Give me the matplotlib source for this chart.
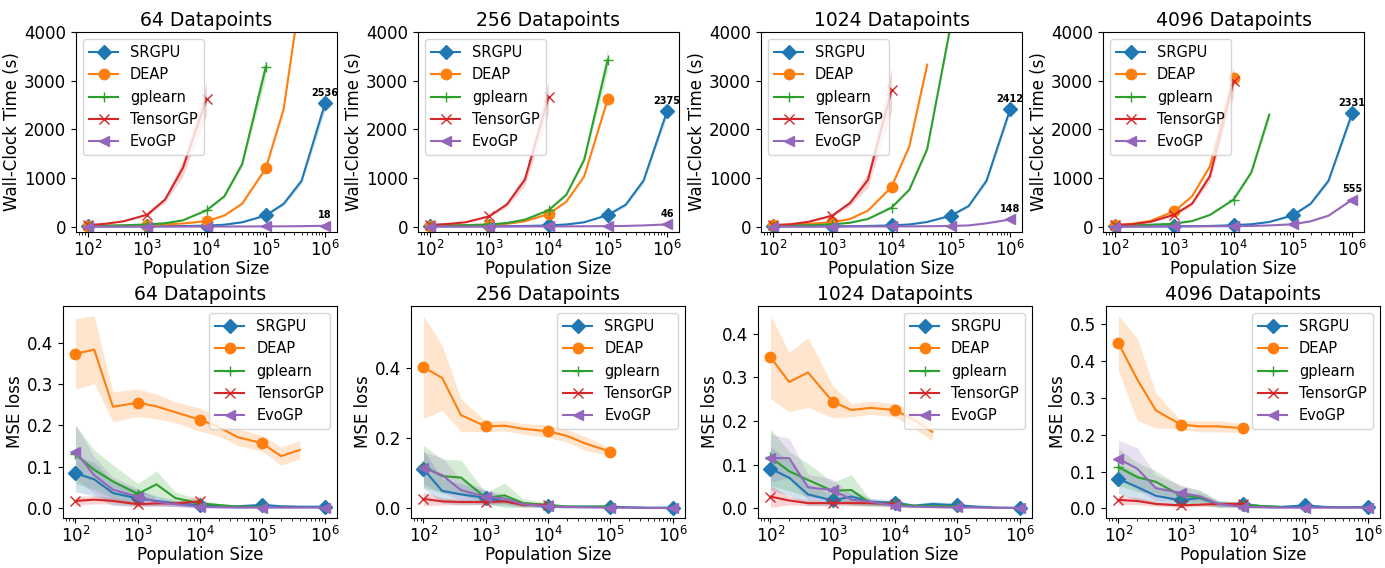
"""Wall-clock time and MSE loss vs population size, one column per dataset size."""

import matplotlib
import numpy as np

matplotlib.use("Agg")
import matplotlib.pyplot as plt

POP = [100, 200, 400, 1000, 2000, 4000, 10000, 20000, 40000, 100000, 200000, 400000, 1000000]
METHODS = ["SRGPU", "DEAP", "gplearn", "TensorGP", "EvoGP"]
MARKERS = {"SRGPU": "D", "DEAP": "o", "gplearn": "+", "TensorGP": "x", "EvoGP": "<"}
DATASETS = [64, 256, 1024, 4096]
TIME_TICKS = [0, 1000, 2000, 3000, 4000]
MSE_TICKS = [
    [0.0, 0.1, 0.2, 0.3, 0.4],
    [0.0, 0.2, 0.4],
    [0.0, 0.1, 0.2, 0.3, 0.4],
    [0.0, 0.1, 0.2, 0.3, 0.4, 0.5],
]

# wall-clock time (s), mean and std over runs; lists stop where a method was not run
time_64 = {
    "SRGPU": [5, 5, 6, 8, 10, 13, 20, 40, 90, 230, 470, 940, 2536],
    "DEAP": [15, 18, 22, 30, 45, 65, 112, 228, 473, 1199, 2418, 4930],
    "gplearn": [18, 22, 28, 45, 70, 130, 335, 623, 1288, 3281],
    "TensorGP": [30, 60, 110, 246, 555, 1205, 2623],
    "EvoGP": [1, 1, 1, 2, 2, 2, 3, 3, 4, 5, 7, 10, 18],
}
time_64_std = {
    "SRGPU": [1, 1, 1, 1, 1, 1, 2, 3, 6, 20, 40, 60, 150],
    "DEAP": [1, 1, 2, 2, 3, 4, 8, 10, 20, 30, 60, 100],
    "gplearn": [1, 1, 2, 3, 5, 8, 15, 25, 60, 230],
    "TensorGP": [3, 5, 10, 20, 60, 170, 330],
    "EvoGP": [0.5] * 13,
}
time_256 = {
    "SRGPU": [5, 5, 6, 8, 10, 14, 25, 45, 90, 240, 450, 945, 2375],
    "DEAP": [20, 25, 30, 40, 60, 110, 260, 513, 1034, 2626],
    "gplearn": [20, 25, 30, 45, 75, 144, 335, 657, 1377, 3432],
    "TensorGP": [35, 55, 90, 212, 459, 966, 2657],
    "EvoGP": [2, 2, 2, 3, 3, 4, 5, 6, 8, 10, 15, 25, 46],
}
time_256_std = {
    "SRGPU": [1, 1, 1, 1, 1, 2, 3, 4, 8, 20, 40, 60, 100],
    "DEAP": [1, 1, 2, 2, 3, 5, 10, 15, 30, 40],
    "gplearn": [1, 1, 2, 3, 5, 8, 15, 25, 50, 230],
    "TensorGP": [3, 5, 10, 20, 50, 120, 330],
    "EvoGP": [0.5] * 13,
}
time_1024 = {
    "SRGPU": [5, 5, 6, 8, 10, 14, 25, 45, 96, 226, 424, 945, 2412],
    "DEAP": [30, 40, 60, 89, 157, 329, 815, 1651, 3329],
    "gplearn": [20, 25, 30, 45, 80, 157, 390, 760, 1596, 4150],
    "TensorGP": [30, 50, 100, 226, 486, 959, 2803],
    "EvoGP": [2, 2, 2, 3, 3, 4, 5, 6, 8, 15, 25, 68, 148],
}
time_1024_std = {
    "SRGPU": [1, 1, 1, 1, 1, 2, 3, 4, 8, 20, 30, 50, 80],
    "DEAP": [1, 1, 2, 3, 5, 10, 20, 30, 60],
    "gplearn": [1, 1, 2, 3, 5, 8, 15, 25, 40, 100],
    "TensorGP": [3, 5, 10, 25, 60, 150, 450],
    "EvoGP": [0.5] * 13,
}
time_4096 = {
    "SRGPU": [5, 5, 6, 8, 10, 14, 30, 50, 96, 233, 472, 945, 2331],
    "DEAP": [40, 60, 120, 315, 623, 1240, 3057],
    "gplearn": [20, 25, 40, 60, 115, 240, 555, 1115, 2300],
    "TensorGP": [30, 50, 100, 245, 472, 1034, 2986],
    "EvoGP": [2, 2, 3, 5, 6, 8, 10, 15, 25, 48, 110, 226, 555],
}
time_4096_std = {
    "SRGPU": [1, 1, 1, 1, 1, 2, 3, 4, 8, 20, 30, 50, 80],
    "DEAP": [2, 3, 5, 10, 20, 40, 200],
    "gplearn": [1, 1, 2, 3, 5, 10, 20, 40, 100],
    "TensorGP": [3, 5, 10, 25, 40, 100, 300],
    "EvoGP": [0.5, 0.5, 0.5, 1, 1, 1, 1, 2, 3, 5, 8, 12, 20],
}

# MSE loss, mean and std
mse_64 = {
    "SRGPU": [0.085, 0.070, 0.037, 0.024, 0.018, 0.012, 0.008, 0.006, 0.005, 0.008, 0.005, 0.004, 0.004],
    "DEAP": [0.373, 0.383, 0.245, 0.255, 0.246, 0.232, 0.214, 0.196, 0.172, 0.157, 0.126, 0.141],
    "gplearn": [0.130, 0.093, 0.065, 0.035, 0.058, 0.025, 0.012, 0.008, 0.004, 0.004],
    "TensorGP": [0.018, 0.021, 0.018, 0.010, 0.012, 0.012, 0.017],
    "EvoGP": [0.137, 0.080, 0.045, 0.028, 0.016, 0.010, 0.004, 0.003, 0.002, 0.002, 0.002, 0.002, 0.002],
}
mse_64_std = {
    "SRGPU": [0.045, 0.040, 0.030, 0.020, 0.012, 0.008, 0.006, 0.005, 0.004, 0.005, 0.004, 0.003, 0.003],
    "DEAP": [0.085, 0.082, 0.036, 0.033, 0.030, 0.025, 0.028, 0.022, 0.020, 0.019, 0.022, 0.022],
    "gplearn": [0.070, 0.048, 0.040, 0.025, 0.032, 0.015, 0.008, 0.004, 0.003, 0.003],
    "TensorGP": [0.010, 0.010, 0.008, 0.005, 0.006, 0.006, 0.012],
    "EvoGP": [0.065, 0.045, 0.030, 0.020, 0.010, 0.006, 0.004, 0.003, 0.002, 0.002, 0.002, 0.002, 0.002],
}
mse_256 = {
    "SRGPU": [0.112, 0.050, 0.040, 0.030, 0.020, 0.012, 0.006, 0.005, 0.005, 0.005, 0.003, 0.002, 0.002],
    "DEAP": [0.403, 0.372, 0.266, 0.234, 0.236, 0.227, 0.220, 0.207, 0.185, 0.162],
    "gplearn": [0.120, 0.092, 0.088, 0.030, 0.037, 0.015, 0.010, 0.005, 0.005, 0.005],
    "TensorGP": [0.027, 0.020, 0.018, 0.018, 0.020, 0.010, 0.010],
    "EvoGP": [0.115, 0.095, 0.052, 0.033, 0.028, 0.012, 0.006, 0.004, 0.003, 0.002, 0.002, 0.001, 0.001],
}
mse_256_std = {
    "SRGPU": [0.055, 0.035, 0.030, 0.020, 0.012, 0.008, 0.004, 0.003, 0.003, 0.003, 0.002, 0.002, 0.002],
    "DEAP": [0.147, 0.092, 0.047, 0.015, 0.015, 0.015, 0.018, 0.018, 0.020, 0.010],
    "gplearn": [0.060, 0.048, 0.050, 0.015, 0.035, 0.012, 0.006, 0.004, 0.003, 0.003],
    "TensorGP": [0.020, 0.010, 0.008, 0.006, 0.006, 0.005, 0.005],
    "EvoGP": [0.045, 0.050, 0.030, 0.020, 0.012, 0.008, 0.004, 0.003, 0.002, 0.002, 0.001, 0.001, 0.001],
}
mse_1024 = {
    "SRGPU": [0.091, 0.070, 0.032, 0.018, 0.027, 0.015, 0.013, 0.006, 0.010, 0.007, 0.004, 0.002, 0.001],
    "DEAP": [0.346, 0.289, 0.311, 0.244, 0.225, 0.230, 0.225, 0.203, 0.175],
    "gplearn": [0.117, 0.085, 0.065, 0.040, 0.042, 0.012, 0.010, 0.006, 0.005, 0.005],
    "TensorGP": [0.027, 0.018, 0.012, 0.012, 0.012, 0.012, 0.010],
    "EvoGP": [0.115, 0.115, 0.048, 0.042, 0.020, 0.015, 0.006, 0.004, 0.003, 0.002, 0.002, 0.001, 0.001],
}
mse_1024_std = {
    "SRGPU": [0.050, 0.040, 0.025, 0.012, 0.015, 0.008, 0.006, 0.004, 0.006, 0.005, 0.003, 0.002, 0.001],
    "DEAP": [0.095, 0.068, 0.080, 0.037, 0.015, 0.015, 0.015, 0.020, 0.020],
    "gplearn": [0.065, 0.045, 0.038, 0.020, 0.035, 0.008, 0.006, 0.004, 0.003, 0.003],
    "TensorGP": [0.025, 0.010, 0.006, 0.006, 0.006, 0.005, 0.005],
    "EvoGP": [0.055, 0.045, 0.030, 0.025, 0.012, 0.008, 0.004, 0.003, 0.002, 0.002, 0.001, 0.001, 0.001],
}
mse_4096 = {
    "SRGPU": [0.080, 0.058, 0.034, 0.022, 0.028, 0.012, 0.011, 0.006, 0.004, 0.008, 0.004, 0.003, 0.004],
    "DEAP": [0.449, 0.351, 0.266, 0.228, 0.223, 0.223, 0.218],
    "gplearn": [0.112, 0.085, 0.072, 0.035, 0.030, 0.012, 0.010, 0.006, 0.004],
    "TensorGP": [0.023, 0.020, 0.012, 0.008, 0.010, 0.012, 0.012],
    "EvoGP": [0.135, 0.108, 0.055, 0.042, 0.033, 0.012, 0.004, 0.003, 0.002, 0.002, 0.002, 0.002, 0.002],
}
mse_4096_std = {
    "SRGPU": [0.040, 0.035, 0.025, 0.015, 0.012, 0.008, 0.006, 0.004, 0.003, 0.005, 0.003, 0.002, 0.003],
    "DEAP": [0.075, 0.112, 0.047, 0.012, 0.015, 0.015, 0.012],
    "gplearn": [0.050, 0.040, 0.030, 0.025, 0.020, 0.010, 0.006, 0.004, 0.003],
    "TensorGP": [0.012, 0.010, 0.006, 0.005, 0.005, 0.006, 0.006],
    "EvoGP": [0.050, 0.057, 0.035, 0.022, 0.015, 0.008, 0.004, 0.003, 0.002, 0.002, 0.002, 0.002, 0.002],
}

TIME = [(time_64, time_64_std), (time_256, time_256_std), (time_1024, time_1024_std), (time_4096, time_4096_std)]
MSE = [(mse_64, mse_64_std), (mse_256, mse_256_std), (mse_1024, mse_1024_std), (mse_4096, mse_4096_std)]


def pad(v):
    a = np.full(len(POP), np.nan)
    a[: len(v)] = v
    return a


W, H = 1385, 568


def box(x, y, w, h):
    return [x / W, 1 - (y + h) / H, w / W, h / H]


fig = plt.figure(figsize=(W / 100, H / 100), dpi=100)
x = np.array(POP, dtype=float)


def draw(ax, means, stds, annotate=False):
    for m in METHODS:
        mu, sd = pad(means[m]), pad(stds[m])
        line, = ax.plot(x, mu, marker=MARKERS[m], markevery=3, markersize=7.5, label=m)
        ax.fill_between(x, mu - sd, mu + sd, color=line.get_color(), alpha=0.2, linewidth=0)
        if annotate and m in ("SRGPU", "EvoGP"):
            v = mu[-1]
            ax.annotate(f"{v:.0f}", (x[-1], v), xytext=(0, 4), textcoords="offset points",
                        ha="center", va="bottom", fontsize=7, fontweight="bold")
    ax.set_xscale("log")
    ax.set_xlabel("Population Size", fontsize=12, labelpad=0)
    ax.tick_params(labelsize=12)
    ax.tick_params(axis="x", pad=2)


for i, n in enumerate(DATASETS):
    ax = fig.add_axes(box([76, 418, 761, 1103][i], 32, 261, 200))
    draw(ax, *TIME[i], annotate=True)
    ax.set_ylim(-110, 4000)
    ax.set_yticks(TIME_TICKS)
    ax.set_ylabel("Wall-Clock Time (s)", fontsize=12, labelpad=2)
    ax.set_title(f"{n} Datapoints", fontsize=13.5, pad=4)
    ax.legend(loc="upper left", fontsize=10.5)

    ax = fig.add_axes(box([63, 411, 758, 1106][i], 306, 274, 212))
    draw(ax, *MSE[i])
    ax.set_yticks(MSE_TICKS[i])
    ax.set_ylabel("MSE loss", fontsize=12, labelpad=2)
    ax.set_title(f"{n} Datapoints", fontsize=13.5, pad=4)
    ax.legend(loc="upper right", fontsize=10.5)

plt.savefig("out.png", dpi=100)
